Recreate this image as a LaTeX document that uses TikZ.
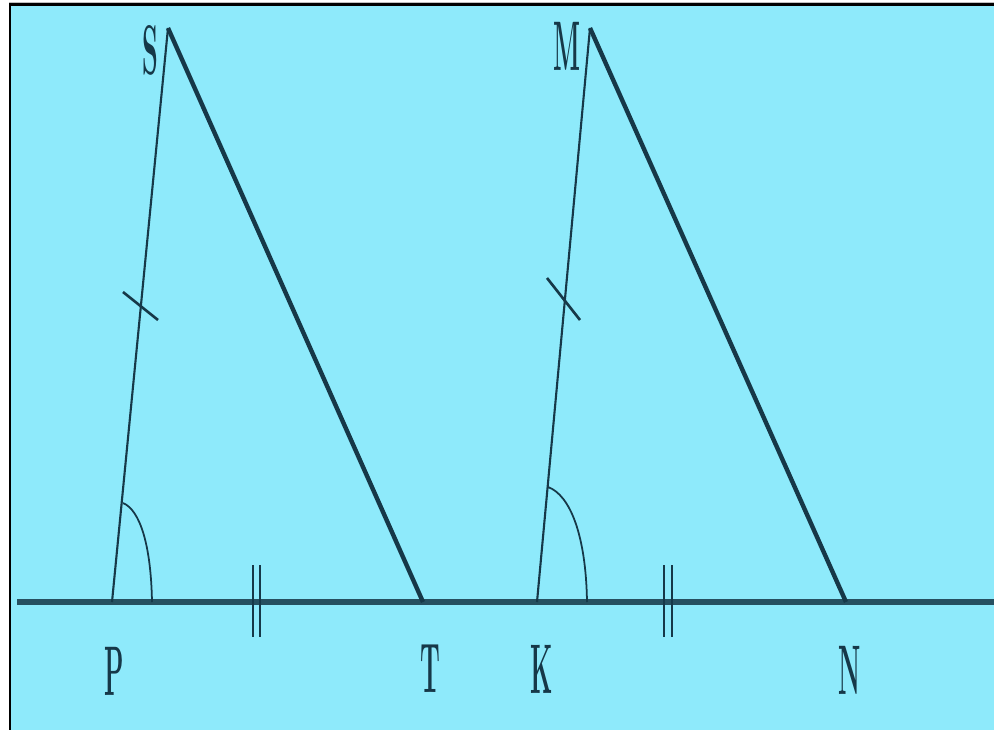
\documentclass[tikz,border=0pt]{standalone}
\usepackage{graphicx}
\definecolor{skyfill}{RGB}{142,234,251}
\definecolor{inkline}{RGB}{22,56,72}
\definecolor{baseink}{RGB}{38,80,96}
\newcommand{\ptlabel}[1]{\scalebox{0.36}[1]{\fontsize{40}{40}\selectfont\bfseries #1}}
\tikzset{
  thinside/.style={draw=inkline, line width=1.2pt},
  thickside/.style={draw=inkline, line width=2.5pt},
  groundline/.style={draw=baseink, line width=3.9pt},
  tickmark/.style={draw=inkline, line width=1.5pt},
  anglearc/.style={draw=inkline, line width=1pt},
  ptname/.style={inner sep=0pt, text=inkline}
}
\begin{document}
\begin{tikzpicture}[x=0.02cm, y=-0.02cm]
\useasboundingbox (0,0) rectangle (994,730);
\fill [white] (0,0) rectangle (994,730);
\fill [skyfill] (10,5) rectangle (994,730);
\draw [gray!50, line width=0.6pt] (9,2.4) -- (994,2.4);
\draw [black, line width=1.3pt] (10,730) -- (10,4.6) -- (994,4.6);

% ground line
\coordinate (lineL) at (17,602);
\coordinate (lineR) at (994,602);
\draw [groundline] (lineL) -- (lineR);

% first triangle
\begin{scope}
\coordinate (P) at (112,602);
\coordinate (S) at (168,28);
\coordinate (T) at (423,602);
\draw [thinside]  (P) -- (S);
\draw [thickside] (S) -- (T);
\draw [anglearc] (152,602) .. controls (151,545) and (140,510) .. (123,503);
\draw [tickmark] (123,292) -- (158,320);
\draw [tickmark] (253,565) -- (253,637);
\draw [tickmark] (260,565) -- (260,637);
\node [ptname] (lblS) at (150,50)  {\ptlabel{S}};
\node [ptname] (lblP) at (114,671) {\ptlabel{P}};
\node [ptname] (lblT) at (430,669) {\ptlabel{T}};
\end{scope}

% second triangle
\begin{scope}
\coordinate (K) at (537,602);
\coordinate (M) at (590,28);
\coordinate (N) at (846,602);
\draw [thinside]  (K) -- (M);
\draw [thickside] (M) -- (N);
\draw [anglearc] (587,602) .. controls (586,535) and (570,495) .. (548,487);
\draw [tickmark] (547,278) -- (580,320);
\draw [tickmark] (664,565) -- (664,637);
\draw [tickmark] (672,565) -- (672,637);
\node [ptname] (lblM) at (567,46)  {\ptlabel{M}};
\node [ptname] (lblK) at (542,669) {\ptlabel{K}};
\node [ptname] (lblN) at (850,670) {\ptlabel{N}};
\end{scope}
\end{tikzpicture}
\end{document}
